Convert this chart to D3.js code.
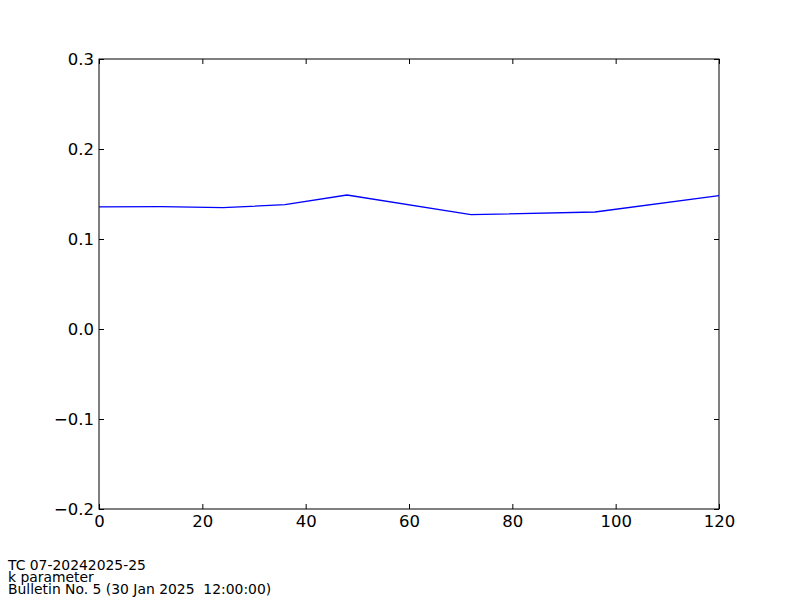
<!DOCTYPE html>
<html>
<head>
<meta charset="utf-8">
<script src="https://cdn.jsdelivr.net/npm/d3@7"></script>
<style>
  body { margin: 0; background: #fff; }
  text { font-family: "DejaVu Sans", sans-serif; }
</style>
</head>
<body>
<div id="chart"></div>
<script>
"use strict";

// forecast lead time (h) and k parameter values
const leadTimes = [0, 12, 24, 36, 48, 72, 96, 120];
const kValues = [0.1356, 0.1359, 0.1348, 0.1381, 0.1489, 0.127, 0.130, 0.1481];
const xTicks = [0, 20, 40, 60, 80, 100, 120];
const yTicks = [-0.2, -0.1, 0.0, 0.1, 0.2, 0.3];
const footer = ["TC 07-20242025-25", "k parameter", "Bulletin No. 5 (30 Jan 2025  12:00:00)"];

const msm = {
    width: 800,
    height: 600,
    left: 99,
    right: 719,
    top: 59,
    bottom: 509,
    tick: 5
};

const svg = d3.select("#chart")
    .append("svg")
    .attr("width", msm.width)
    .attr("height", msm.height);

const xScale = d3.scaleLinear().domain([0, 120]).range([msm.left, msm.right]);
const yScale = d3.scaleLinear().domain([-0.2, 0.3]).range([msm.bottom, msm.top]);

const fmtMinus = (s) => s.replace("-", "\u2212");

// axes with inward ticks on all four sides
function styleAxis(g) {
    g.select(".domain").remove();
    g.selectAll("line").attr("stroke", "#000");
    g.selectAll("text").attr("fill", "#000").style("font-size", "16.5px");
}

svg.append("g")
    .attr("transform", "translate(0," + msm.bottom + ")")
    .call(d3.axisBottom(xScale).tickValues(xTicks).tickFormat(d3.format("d"))
        .tickSizeInner(-msm.tick).tickPadding(6))
    .call(styleAxis);

svg.append("g")
    .attr("transform", "translate(0," + msm.top + ")")
    .call(d3.axisTop(xScale).tickValues(xTicks).tickFormat("").tickSizeInner(-msm.tick))
    .call(styleAxis);

svg.append("g")
    .attr("transform", "translate(" + msm.left + ",0)")
    .call(d3.axisLeft(yScale).tickValues(yTicks).tickFormat((d) => fmtMinus(d3.format(".1f")(d)))
        .tickSizeInner(-msm.tick).tickPadding(5))
    .call(styleAxis);

svg.append("g")
    .attr("transform", "translate(" + msm.right + ",0)")
    .call(d3.axisRight(yScale).tickValues(yTicks).tickFormat("").tickSizeInner(-msm.tick))
    .call(styleAxis);

// frame
svg.append("rect")
    .attr("x", msm.left)
    .attr("y", msm.top)
    .attr("width", msm.right - msm.left)
    .attr("height", msm.bottom - msm.top)
    .attr("fill", "none")
    .attr("stroke", "#000")
    .attr("stroke-width", 1);

// the data line
const line = d3.line()
    .x((d, i) => xScale(leadTimes[i]))
    .y((d) => yScale(d));

svg.append("path")
    .datum(kValues)
    .attr("d", line)
    .attr("fill", "none")
    .attr("stroke", "#0000ff")
    .attr("stroke-width", 1.3);

// footer text (lines are tightly packed as in the original)
svg.selectAll(".foot")
    .data(footer)
    .enter()
    .append("text")
    .attr("class", "foot")
    .attr("x", 8)
    .attr("y", (d, i) => 570 + i * 12)
    .style("font-size", "13.9px")
    .style("white-space", "pre")
    .text((d) => d);
</script>
</body>
</html>
